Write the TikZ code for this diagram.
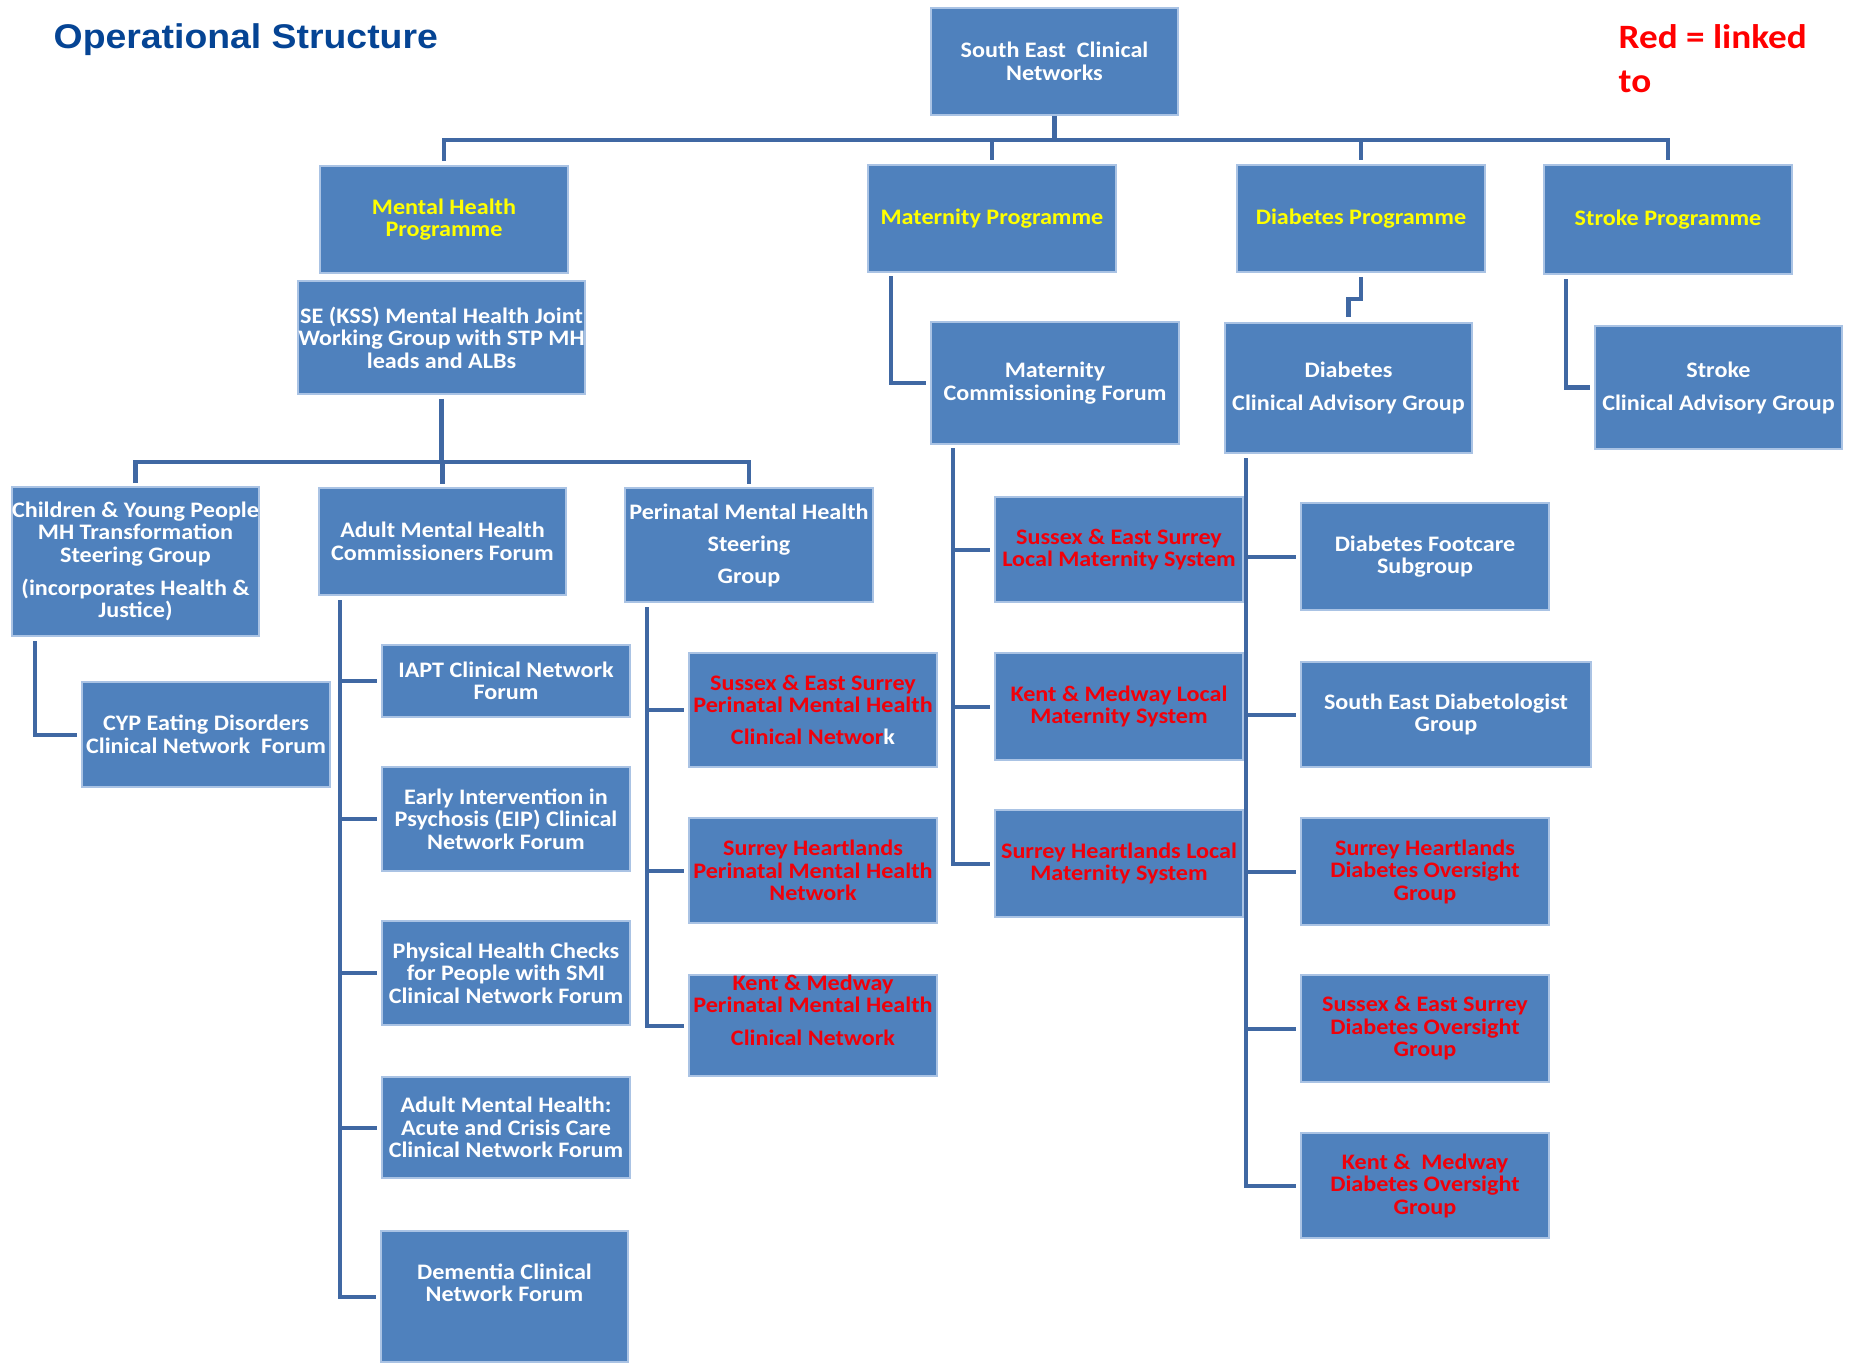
\documentclass[tikz,border=0pt]{standalone}
\usepackage{fontspec}
\newfontfamily\calb{Carlito}[FakeStretch=1.09]
\newfontfamily\arib{Liberation Sans}[FakeStretch=1.09]
\definecolor{boxblue}{RGB}{79,129,189}
\definecolor{boxedge}{RGB}{170,195,228}
\definecolor{linecol}{RGB}{64,104,163}
\definecolor{titleblue}{RGB}{5,68,148}
\definecolor{yel}{RGB}{255,255,0}
\definecolor{redt}{RGB}{240,0,10}
\tikzset{
  box/.style={rectangle, fill=boxblue, draw=boxedge, line width=0.45pt, inner sep=0pt,
    align=center, text=white, font=\calb\bfseries\fontsize{6.3pt}{6.4pt}\selectfont},
  conn/.style={draw=linecol, line width=1.15pt},
  br/.style={conn, shorten >=0.045cm},
}
\newcommand\obox[7][]{\node[box,minimum width={(#5-#3)*0.01cm},minimum height={(#6-#4)*0.01cm},#1] (#2) at ({(#3+#5)/2},{(#4+#6)/2}) {#7};}
\begin{document}
\begin{tikzpicture}[x=0.01cm,y=-0.01cm]
\useasboundingbox[fill=white] (0,0) rectangle (1851,1362);

% titles
\node[anchor=base west, inner sep=0pt, font=\arib\bfseries\fontsize{9.75pt}{11pt}\selectfont, text=titleblue] (title) at (53,48) {Operational Structure};
\node[anchor=base west, inner sep=0pt, font=\calb\bfseries\fontsize{9.7pt}{12.5pt}\selectfont, text=red] (reda) at (1618,48) {Red = linked};
\node[anchor=base west, inner sep=0pt, font=\calb\bfseries\fontsize{9.7pt}{12.5pt}\selectfont, text=red] (redb) at (1618,92) {to};

% top level
\obox{secn}{931}{8}{1178}{115}{South East~~Clinical\\Networks}
\obox[text=yel]{mhp}{320}{166}{568}{273}{Mental Health\\Programme}
\obox[text=yel]{matp}{868}{165}{1116}{272}{Maternity Programme}
\obox[text=yel]{diap}{1237}{165}{1485}{272}{Diabetes Programme}
\obox[text=yel]{strokep}{1544}{165}{1792}{274}{Stroke Programme}

\obox{kss}{299}{281}{584}{394}{SE (KSS) Mental Health Joint\\Working Group with STP MH\\leads and ALBs}
\obox{matcf}{931}{322}{1179}{444}{Maternity\\Commissioning Forum}
\obox{diacag}{1225}{323}{1472}{453}{Diabetes\\[3pt]Clinical Advisory Group}
\obox{strokecag}{1595}{326}{1842}{449}{Stroke\\[3pt]Clinical Advisory Group}

% mental health
\obox{cyp}{12}{487}{259}{636}{Children \& Young People\\MH Transformation\\Steering Group\\[3pt](incorporates Health \&\\Justice)}
\obox{amhcf}{319}{488}{566}{595}{Adult Mental Health\\Commissioners Forum}
\obox{pmhsg}{625}{488}{873}{602}{Perinatal Mental Health\\[2.7pt]Steering\\[2.7pt]Group}
\obox{cyped}{82}{682}{330}{787}{CYP Eating Disorders\\Clinical Network~~Forum}
\obox{iapt}{382}{645}{630}{717}{IAPT Clinical Network\\Forum}
\obox{eip}{382}{767}{630}{871}{Early Intervention in\\Psychosis (EIP) Clinical\\Network Forum}
\obox{phc}{382}{921}{630}{1025}{Physical Health Checks\\for People with SMI\\Clinical Network Forum}
\obox{acute}{382}{1077}{630}{1178}{Adult Mental Health:\\Acute and Crisis Care\\Clinical Network Forum}
\obox[text depth=8pt]{dem}{381}{1231}{628}{1362}{Dementia Clinical\\Network Forum}
\obox[text=redt]{sesp}{689}{653}{937}{767}{Sussex \& East Surrey\\Perinatal Mental Health\\[2.7pt]Clinical Networ\textcolor{white}{k}}
\obox[text=redt]{shp}{689}{818}{937}{923}{Surrey Heartlands\\Perinatal Mental Health\\Network}
\obox[text=redt, text depth=8.6pt]{kmp}{689}{975}{937}{1076}{Kent \& Medway\\Perinatal Mental Health\\[3pt]Clinical Network}

% maternity
\obox[text=redt]{seslms}{995}{497}{1243}{602}{Sussex \& East Surrey\\Local Maternity System}
\obox[text=redt]{kmlms}{995}{653}{1243}{760}{Kent \& Medway Local\\Maternity System}
\obox[text=redt]{shlms}{995}{810}{1243}{917}{Surrey Heartlands Local\\Maternity System}

% diabetes
\obox{foot}{1301}{503}{1549}{610}{Diabetes Footcare\\Subgroup}
\obox{sedg}{1301}{662}{1591}{767}{South East Diabetologist\\Group}
\obox[text=redt]{shdo}{1301}{818}{1549}{925}{Surrey Heartlands\\Diabetes Oversight\\Group}
\obox[text=redt]{sesdo}{1301}{975}{1549}{1082}{Sussex \& East Surrey\\Diabetes Oversight\\Group}
\obox[text=redt]{kmdo}{1301}{1133}{1549}{1238}{Kent \&~~Medway\\Diabetes Oversight\\Group}

% ---- connectors ----
\coordinate (bus1) at (0,140);
\draw[conn] (secn.south) -- (secn.south |- bus1);
\draw[conn, shorten <=0.04cm, shorten >=0.04cm] (mhp.north) -- (mhp.north |- bus1) -- (strokep.north |- bus1) -- (strokep.north);
\draw[conn, shorten >=0.04cm] (matp.north |- bus1) -- (matp.north);
\draw[conn, shorten >=0.04cm] (diap.north |- bus1) -- (diap.north);

\coordinate (bus2) at (0,462);
\draw[conn, shorten <=0.04cm] (kss.south) -- (kss.south |- bus2);
\draw[conn, shorten <=0.03cm, shorten >=0.03cm] (cyp.north) -- (cyp.north |- bus2) -- (pmhsg.north |- bus2) -- (pmhsg.north);
\draw[conn, shorten >=0.03cm] (amhcf.north |- bus2) -- (amhcf.north);

\coordinate (cypsp) at (35,641);
\draw[br] (cypsp) |- (cyped.west);

\coordinate (asp) at (340,600);
\draw[br] (asp) |- (dem.west);
\foreach \n in {iapt,eip,phc,acute} \draw[br] (asp |- \n.west) -- (\n.west);

\coordinate (psp) at (647,607);
\draw[br] (psp) |- (kmp.west);
\foreach \n in {sesp,shp} \draw[br] (psp |- \n.west) -- (\n.west);

\coordinate (msp) at (891,276);
\draw[br] (msp) |- (matcf.west);

\coordinate (mcsp) at (953,448);
\draw[br] (mcsp) |- (shlms.west);
\foreach \n in {seslms,kmlms} \draw[br] (mcsp |- \n.west) -- (\n.west);

\draw[conn, shorten >=0.05cm] ([yshift=-0.04cm]diap.south) -- ++(0,22) -| (diacag.north);

\coordinate (dsp) at (1246,458);
\draw[br] (dsp) |- (kmdo.west);
\foreach \n in {foot,sedg,shdo,sesdo} \draw[br] (dsp |- \n.west) -- (\n.west);

\coordinate (ssp) at (1566,279);
\draw[br] (ssp) |- (strokecag.west);
\end{tikzpicture}
\end{document}
